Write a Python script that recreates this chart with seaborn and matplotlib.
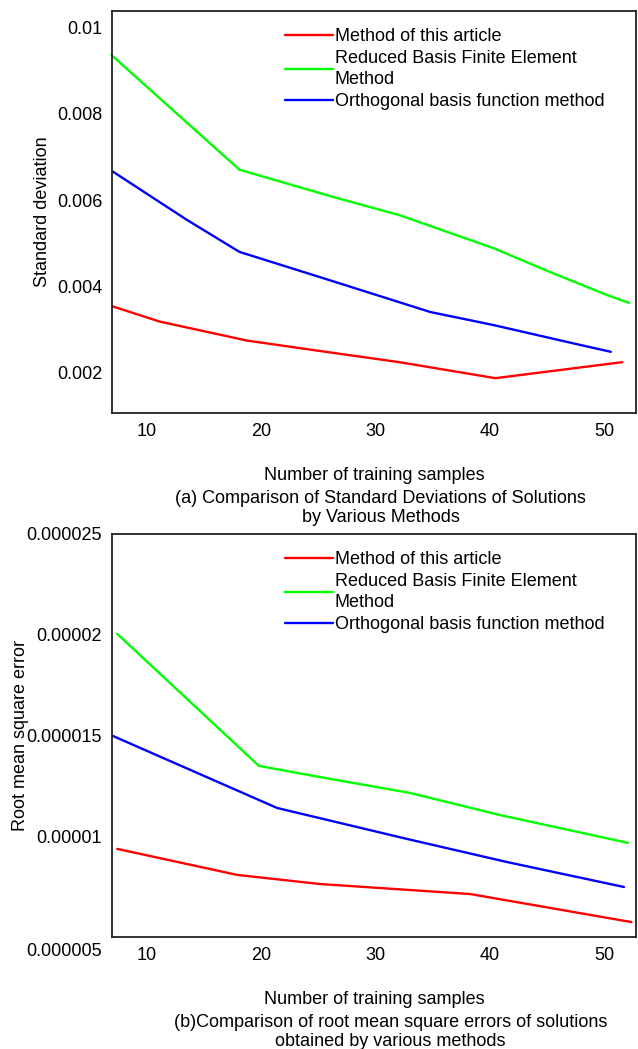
import numpy as np
import pandas as pd
import matplotlib
matplotlib.use('Agg')
import matplotlib.pyplot as plt
import matplotlib.transforms as mtransforms
from matplotlib.ticker import FuncFormatter
import seaborn as sns

sns.set_theme(style='white')
plt.rcParams['font.family'] = ['Liberation Sans', 'DejaVu Sans']
plt.rcParams['text.color'] = 'black'
plt.rcParams['axes.labelcolor'] = 'black'

# Metodos e cores
metodos = ['Method of this article',
           'Reduced Basis Finite Element\nMethod',
           'Orthogonal basis function method']
cores = ['#ff0000', '#00ff00', '#0000ff']

# (a) desvio padrao
sd_x_artigo = [7.0, 11.1, 18.75, 25.1, 32.1, 40.5, 51.6]
sd_y_artigo = [0.00354, 0.00319, 0.00275, 0.00251, 0.00225, 0.00188, 0.00225]
sd_x_rbfem = [6.9, 18.1, 26.3, 32.1, 40.3, 45.5, 50.3, 52.2]
sd_y_rbfem = [0.00935, 0.0067, 0.00607, 0.00565, 0.00489, 0.00431, 0.0038, 0.00362]
sd_x_orto = [7.0, 13.5, 18.1, 25.1, 34.8, 40.3, 47.9, 50.6]
sd_y_orto = [0.00666, 0.00554, 0.0048, 0.00422, 0.00341, 0.00311, 0.00265, 0.00249]

# (b) erro quadratico medio
rmse_x_artigo = [7.4, 17.9, 25.1, 38.3, 52.4]
rmse_y_artigo = [9.37e-6, 8.08e-6, 7.63e-6, 7.13e-6, 5.74e-6]
rmse_x_rbfem = [7.4, 19.8, 25.1, 33.0, 40.9, 52.1]
rmse_y_rbfem = [2.004e-5, 1.349e-5, 1.294e-5, 1.215e-5, 1.105e-5, 9.67e-6]
rmse_x_orto = [7.0, 21.4, 32.8, 41.5, 51.75]
rmse_y_orto = [1.498e-5, 1.140e-5, 9.86e-6, 8.72e-6, 7.48e-6]

x_ticks = [10, 20, 30, 40, 50]
sd_ticks = [0.002, 0.004, 0.006, 0.008, 0.01]
rmse_ticks = [0.000005, 0.00001, 0.000015, 0.00002, 0.000025]


def monta_base(xs, ys):
    partes = []
    for nome, x, y in zip(metodos, xs, ys):
        partes.append(pd.DataFrame({'amostras': x, 'valor': y, 'metodo': nome}))
    return pd.concat(partes, ignore_index=True)


base_sd = monta_base([sd_x_artigo, sd_x_rbfem, sd_x_orto],
                     [sd_y_artigo, sd_y_rbfem, sd_y_orto])
base_rmse = monta_base([rmse_x_artigo, rmse_x_rbfem, rmse_x_orto],
                       [rmse_y_artigo, rmse_y_rbfem, rmse_y_orto])

formato = FuncFormatter(lambda v, p: f'{v:.6f}'.rstrip('0'))

fig = plt.figure(figsize=(6.38, 10.49), dpi=100)
ax1 = fig.add_axes([0.1755, 0.6063, 0.8213, 0.3832])
ax2 = fig.add_axes([0.1755, 0.1068, 0.8213, 0.3842])

FONTE = 13


def desenha(ax, base, ylim, yticks, ylabel, pad_y):
    sns.lineplot(data=base, x='amostras', y='valor', hue='metodo',
                 hue_order=metodos, palette=cores, estimator=None,
                 linewidth=1.7, ax=ax)
    for linha in ax.get_lines():
        linha.set_clip_on(False)
    leg = ax.get_legend()
    handles = leg.legend_handles
    labels = [t.get_text() for t in leg.get_texts()]
    leg = ax.legend(handles, labels, loc='upper left', bbox_to_anchor=(0.330, 0.957),
                    frameon=False, handlelength=2.65, handletextpad=0.1,
                    borderpad=0, borderaxespad=0, labelspacing=0.25, fontsize=FONTE)
    for t in leg.get_texts():
        t.set_linespacing(1.35)
    ax.set_xlim(6.94, 52.8)
    ax.set_ylim(*ylim)
    ax.set_xticks(x_ticks)
    ax.set_yticks(yticks)
    ax.yaxis.set_major_formatter(formato)
    ax.tick_params(length=0, pad=7, labelsize=FONTE, labelcolor='black')
    ax.set_xlabel('Number of training samples', fontsize=FONTE, labelpad=20)
    ax.set_ylabel(ylabel, fontsize=FONTE, labelpad=pad_y)
    for s in ax.spines.values():
        s.set_visible(True)
        s.set_color('#222222')
        s.set_linewidth(1.3)


desenha(ax1, base_sd, (0.001075, 0.01037), sd_ticks, 'Standard deviation', 4)
desenha(ax2, base_rmse, (0.000005, 0.000025), rmse_ticks, 'Root mean square error', -2)

# rotulo de baixo do grafico (b) fica um pouco abaixo do eixo
desloca = mtransforms.ScaledTranslation(0, -13 / 100, fig.dpi_scale_trans)
rotulo = ax2.get_yticklabels()[0]
rotulo.set_transform(rotulo.get_transform() + desloca)

fig.text(0.597, 1 - 508 / 1049,
         '(a) Comparison of Standard Deviations of Solutions\nby Various Methods',
         ha='center', va='center', fontsize=FONTE, linespacing=1.12)
fig.text(0.612, 1 - 1032 / 1049,
         '(b)Comparison of root mean square errors of solutions\nobtained by various methods',
         ha='center', va='center', fontsize=FONTE, linespacing=1.12)

fig.savefig('out.png', dpi=100, facecolor='white')
